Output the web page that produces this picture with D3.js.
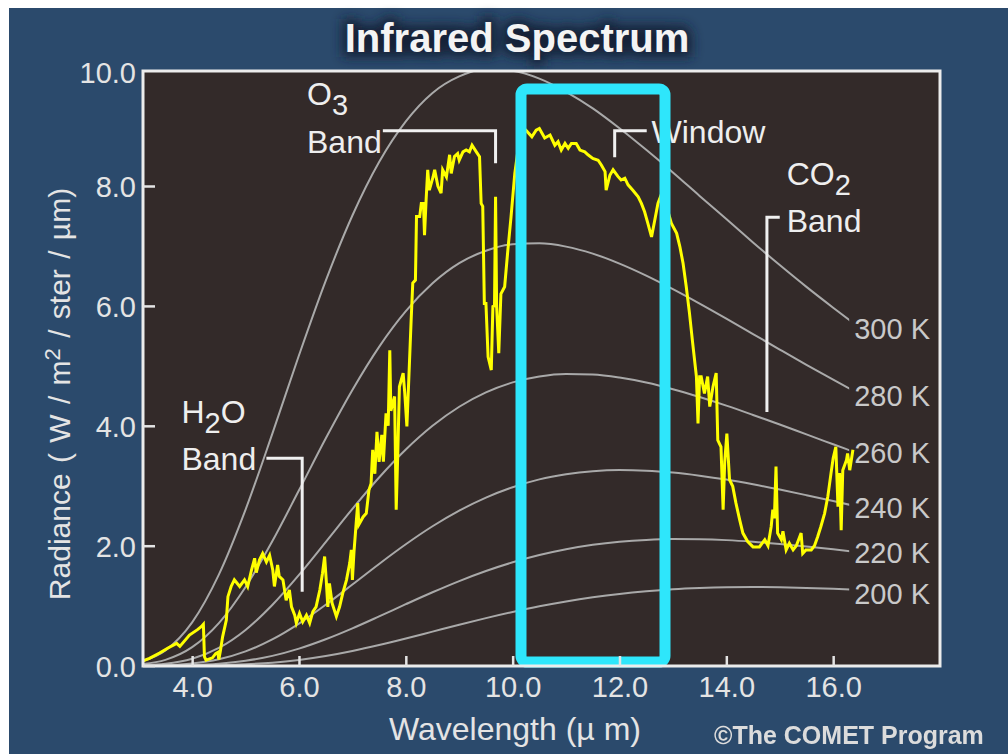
<!DOCTYPE html>
<html>
<head>
<meta charset="utf-8">
<script src="https://cdn.jsdelivr.net/npm/d3@7"></script>
<style>
  body { margin: 0; background: #fff; }
  svg { display: block; }
  text { font-family: "Liberation Sans", Arial, sans-serif; }
</style>
</head>
<body>
<div id="chart"></div>
<script>
// measured spectrum (yellow trace), wavelength in µm and radiance
const specWl = [3.08, 3.2, 3.39, 3.54, 3.71, 3.77, 3.95, 4.1, 4.17, 4.21, 4.23, 4.26, 4.38, 4.44, 4.48, 4.5, 4.53,
  4.57, 4.64, 4.67, 4.73, 4.79, 4.89, 4.98, 5.04, 5.11, 5.17, 5.2, 5.26, 5.32, 5.39, 5.45, 5.51, 5.54, 5.6, 5.63,
  5.7, 5.76, 5.82, 5.86, 5.92, 5.95, 6.01, 6.07, 6.14, 6.2, 6.26, 6.32, 6.39, 6.44, 6.48, 6.51, 6.54, 6.57, 6.62,
  6.7, 6.76, 6.82, 6.89, 6.95, 6.98, 7.0, 7.03, 7.07, 7.1, 7.12, 7.2, 7.26, 7.31, 7.35, 7.38, 7.42, 7.46, 7.5, 7.55,
  7.58, 7.63, 7.67, 7.7, 7.72, 7.79, 7.82, 7.85, 7.88, 7.95, 7.98, 8.02, 8.05, 8.1, 8.13, 8.18, 8.2, 8.26, 8.29,
  8.33, 8.35, 8.38, 8.41, 8.44, 8.51, 8.54, 8.6, 8.66, 8.69, 8.76, 8.82, 8.85, 8.91, 8.97, 9.0, 9.07, 9.13, 9.19,
  9.24, 9.32, 9.38, 9.41, 9.44, 9.47, 9.5, 9.54, 9.6, 9.63, 9.66, 9.68, 9.7, 9.74, 9.78, 9.85, 9.91, 9.97, 10.04,
  10.1, 10.17, 10.25, 10.3, 10.36, 10.44, 10.5, 10.6, 10.7, 10.79, 10.85, 10.91, 10.98, 11.04, 11.1, 11.19, 11.26,
  11.35, 11.41, 11.5, 11.6, 11.66, 11.73, 11.75, 11.82, 11.88, 11.97, 12.03, 12.1, 12.16, 12.25, 12.35, 12.41,
  12.47, 12.53, 12.6, 12.66, 12.72, 12.8, 12.9, 12.97, 13.07, 13.13, 13.19, 13.25, 13.31, 13.37, 13.44, 13.47,
  13.5, 13.53, 13.59, 13.65, 13.69, 13.75, 13.81, 13.84, 13.9, 13.94, 13.97, 14.01, 14.06, 14.12, 14.18, 14.25,
  14.31, 14.4, 14.5, 14.62, 14.72, 14.78, 14.84, 14.87, 14.9, 14.93, 14.96, 15.03, 15.06, 15.12, 15.18, 15.25,
  15.31, 15.4, 15.43, 15.49, 15.59, 15.65, 15.71, 15.77, 15.84, 15.9, 15.96, 16.0, 16.05, 16.09, 16.12, 16.15,
  16.18, 16.25, 16.27, 16.31, 16.37];
const specRad = [0.08, 0.12, 0.21, 0.29, 0.37, 0.32, 0.51, 0.6, 0.65, 0.69, 0.15, 0.09, 0.13, 0.2, 0.22, 0.1, 0.25,
  0.48, 0.76, 1.15, 1.32, 1.43, 1.32, 1.43, 1.32, 1.59, 1.79, 1.55, 1.76, 1.87, 1.73, 1.84, 1.59, 1.32, 1.68, 1.49,
  1.43, 1.09, 1.26, 0.98, 0.84, 0.71, 0.87, 0.73, 0.84, 0.71, 0.9, 0.98, 1.26, 1.54, 1.82, 1.43, 0.98, 1.37, 1.04,
  0.82, 0.98, 1.21, 1.43, 1.71, 1.93, 1.43, 1.9, 2.37, 2.71, 2.35, 2.48, 2.54, 2.93, 3.04, 3.6, 3.2, 3.9, 3.4, 3.85,
  3.4, 4.21, 4.0, 5.26, 4.25, 4.49, 2.6, 3.55, 4.65, 4.88, 4.55, 3.99, 4.65, 5.77, 6.38, 6.43, 7.49, 7.49, 7.71,
  7.71, 7.18, 7.77, 8.27, 7.93, 8.15, 8.27, 8.0, 7.88, 8.27, 8.15, 8.52, 8.21, 8.49, 8.54, 8.43, 8.57, 8.6, 8.57,
  8.68, 8.57, 8.49, 7.71, 7.66, 6.04, 6.04, 5.15, 4.93, 5.99, 6.0, 7.82, 6.0, 5.21, 6.2, 6.32, 6.93, 7.49, 8.21,
  8.6, 8.9, 8.93, 8.88, 8.82, 8.93, 8.96, 8.8, 8.85, 8.68, 8.74, 8.6, 8.71, 8.63, 8.71, 8.71, 8.6,
  8.57, 8.52, 8.46, 8.43, 8.35, 8.24, 7.93, 8.18, 8.27, 8.16, 8.1, 8.13, 8.02, 7.93, 7.82, 7.71,
  7.57, 7.38, 7.15, 7.43, 7.71, 7.9, 7.6, 7.38, 7.21, 6.99, 6.71, 6.32, 5.88, 5.38, 4.82, 4.04,
  4.82, 4.82, 4.54, 4.82, 4.32, 4.65, 4.88, 3.76, 3.65, 2.6, 3.4, 3.87, 3.1, 2.99, 2.71, 2.43,
  2.21, 2.07, 1.98, 1.98, 2.1, 2.0, 2.32, 2.6, 2.46, 3.32, 2.21, 2.1, 2.24, 1.93, 2.04, 1.93,
  2.0, 2.21, 1.87, 1.93, 1.93, 2.0, 2.15, 2.32, 2.54, 2.82, 3.21, 3.46, 3.65, 2.65, 3.21, 2.26,
  3.26, 3.43, 3.54, 3.26, 3.6];

// blackbody reference curves
const planckWl = [3.0, 3.5, 4.0, 4.5, 5.0, 5.5, 6.0, 6.5, 7.0, 7.5, 8.0, 8.5, 9.0, 9.5, 10.0, 10.5, 11.0, 11.5,
  12.0, 12.5, 13.0, 13.5, 14.0, 14.5, 15.0, 15.5, 16.0, 16.5];
const rad300 = [0.056, 0.254, 0.722, 1.518, 2.602, 3.865, 5.176, 6.418, 7.508, 8.400, 9.078, 9.553, 9.829, 9.950,
  9.923, 9.792, 9.572, 9.295, 8.963, 8.603, 8.226, 7.835, 7.448, 7.059, 6.681, 6.317, 5.970, 5.633];
const rad280 = [0.018, 0.095, 0.307, 0.709, 1.312, 2.073, 2.924, 3.788, 4.598, 5.317, 5.912, 6.376, 6.712, 6.921,
  7.028, 7.044, 6.989, 6.872, 6.705, 6.505, 6.280, 6.039, 5.788, 5.530, 5.272, 5.017, 4.769, 4.527];
const rad260 = [0.005, 0.031, 0.114, 0.295, 0.595, 1.011, 1.513, 2.061, 2.614, 3.138, 3.604, 4.000, 4.318, 4.558,
  4.724, 4.823, 4.864, 4.855, 4.804, 4.721, 4.611, 4.480, 4.336, 4.181, 4.021, 3.856, 3.692, 3.528];
const rad240 = [0.001, 0.008, 0.036, 0.106, 0.237, 0.437, 0.701, 1.014, 1.353, 1.696, 2.024, 2.324, 2.585, 2.802,
  2.975, 3.106, 3.191, 3.242, 3.261, 3.252, 3.220, 3.168, 3.103, 3.024, 2.936, 2.842, 2.745, 2.644];
const rad220 = [0.000, 0.002, 0.009, 0.032, 0.080, 0.162, 0.283, 0.439, 0.621, 0.820, 1.024, 1.223, 1.410, 1.578,
  1.723, 1.844, 1.941, 2.015, 2.066, 2.097, 2.110, 2.107, 2.093, 2.066, 2.030, 1.987, 1.939, 1.886];
const rad200 = [0.000, 0.000, 0.002, 0.007, 0.022, 0.049, 0.095, 0.160, 0.244, 0.343, 0.452, 0.567, 0.682, 0.792,
  0.895, 0.989, 1.070, 1.139, 1.196, 1.240, 1.273, 1.294, 1.307, 1.311, 1.306, 1.296, 1.281, 1.261];
const tempCurves = [rad300, rad280, rad260, rad240, rad220, rad200];
const tempLabels = ['300 K', '280 K', '260 K', '240 K', '220 K', '200 K'];
const tempLabelRad = [5.63, 4.5, 3.56, 2.63, 1.89, 1.2];

const xTicks = [4, 6, 8, 10, 12, 14, 16];
const yTicks = [0, 2, 4, 6, 8];

const width = 1008;
const height = 754;
const plot = { left: 143, right: 940, top: 71, bottom: 666 };

const x = d3.scaleLinear().domain([3.08, 18.0]).range([plot.left, plot.right]);
const y = d3.scaleLinear().domain([0, 10]).range([665.6, 66.1]);

const svg = d3.select('#chart').append('svg')
  .attr('width', width)
  .attr('height', height);

const defs = svg.append('defs');
defs.append('clipPath').attr('id', 'plot-clip')
  .append('rect')
  .attr('x', plot.left).attr('y', plot.top)
  .attr('width', plot.right - plot.left).attr('height', plot.bottom - plot.top);
defs.append('clipPath').attr('id', 'curve-clip')
  .append('rect')
  .attr('x', plot.left).attr('y', plot.top)
  .attr('width', x(16.3) - plot.left).attr('height', plot.bottom - plot.top);
defs.append('filter').attr('id', 'glow')
  .attr('x', '-20%').attr('y', '-50%').attr('width', '140%').attr('height', '200%')
  .append('feGaussianBlur').attr('stdDeviation', 6);
defs.append('filter').attr('id', 'soft')
  .attr('x', '-5%').attr('y', '-30%').attr('width', '110%').attr('height', '160%')
  .append('feGaussianBlur').attr('stdDeviation', 0.6);

// panel background
svg.append('rect').attr('x', 9).attr('y', 8)
  .attr('width', width - 9).attr('height', height - 8)
  .attr('fill', '#2b4a6c');

// title with dark halo
svg.append('text')
  .attr('x', 517).attr('y', 52)
  .attr('text-anchor', 'middle')
  .attr('font-size', 40).attr('font-weight', 'bold')
  .attr('fill', '#142338').attr('stroke', '#142338').attr('stroke-width', 10)
  .attr('filter', 'url(#glow)')
  .text('Infrared Spectrum');
svg.append('text')
  .attr('x', 517).attr('y', 52)
  .attr('text-anchor', 'middle')
  .attr('font-size', 40).attr('font-weight', 'bold')
  .attr('fill', '#f4f4f4')
  .text('Infrared Spectrum');

// plot area
svg.append('rect')
  .attr('x', plot.left).attr('y', plot.top)
  .attr('width', plot.right - plot.left).attr('height', plot.bottom - plot.top)
  .attr('fill', '#332a29');

// blackbody curves
const planckLine = d3.line()
  .x((d, i) => x(planckWl[i]))
  .y(d => y(d))
  .curve(d3.curveMonotoneX);

svg.append('g')
  .attr('clip-path', 'url(#curve-clip)')
  .selectAll('path')
  .data(tempCurves)
  .join('path')
  .attr('d', planckLine)
  .attr('fill', 'none')
  .attr('stroke', '#a9a9a9')
  .attr('stroke-width', 2);

svg.append('g')
  .selectAll('text')
  .data(tempLabels)
  .join('text')
  .attr('x', x(16.3) + 5)
  .attr('y', (d, i) => y(tempLabelRad[i]))
  .attr('dy', '0.36em')
  .attr('font-size', 29)
  .attr('fill', '#c9c9c9')
  .text(d => d);

// measured spectrum
const specLine = d3.line()
  .x((d, i) => x(specWl[i]))
  .y(d => y(d));

svg.append('path')
  .datum(specRad)
  .attr('clip-path', 'url(#plot-clip)')
  .attr('d', specLine)
  .attr('fill', 'none')
  .attr('stroke', '#ffff00')
  .attr('stroke-width', 3)
  .attr('stroke-linejoin', 'miter');

// band annotations (brackets in data units)
const brackets = [
  [[7.57, 8.92], [9.68, 8.92], [9.68, 8.38]],
  [[5.39, 3.46], [6.06, 3.46], [6.06, 1.23]],
  [[11.91, 8.48], [11.91, 8.92], [12.51, 8.92]],
  [[14.76, 4.23], [14.76, 7.48], [15.0, 7.48]]
];
const bracketLine = d3.line().x(d => x(d[0])).y(d => y(d[1]));
svg.append('g')
  .selectAll('path')
  .data(brackets)
  .join('path')
  .attr('d', bracketLine)
  .attr('fill', 'none')
  .attr('stroke', '#f0f0f0')
  .attr('stroke-width', 3);

const bandLabels = [
  { wl: 6.15, rad: 9.35, main: 'O', sub: '3' },
  { wl: 6.15, rad: 8.55, main: 'Band' },
  { wl: 3.8, rad: 4.05, main: 'H', sub: '2', tail: 'O' },
  { wl: 3.8, rad: 3.26, main: 'Band' },
  { wl: 15.13, rad: 8.02, main: 'CO', sub: '2' },
  { wl: 15.13, rad: 7.23, main: 'Band' },
  { wl: 12.6, rad: 8.72, main: 'Window' }
];
const bl = svg.append('g')
  .selectAll('text')
  .data(bandLabels)
  .join('text')
  .attr('x', d => x(d.wl))
  .attr('y', d => y(d.rad))
  .attr('font-size', 32)
  .attr('fill', '#eeeeee');
bl.append('tspan').text(d => d.main);
bl.filter(d => d.sub).append('tspan')
  .attr('dy', 10).attr('font-size', 29)
  .text(d => d.sub);
bl.filter(d => d.tail).append('tspan')
  .attr('dy', -10)
  .text(d => d.tail);

// cyan highlight box around the window region
svg.append('rect')
  .attr('x', 521).attr('y', 89)
  .attr('width', 144).attr('height', 573)
  .attr('rx', 6)
  .attr('fill', 'none')
  .attr('stroke', '#2ee6fb')
  .attr('stroke-width', 11);

// frame
svg.append('rect')
  .attr('x', plot.left).attr('y', plot.top)
  .attr('width', plot.right - plot.left).attr('height', plot.bottom - plot.top)
  .attr('fill', 'none')
  .attr('stroke', '#ececec')
  .attr('stroke-width', 3);

// axes
const yAxis = svg.append('g')
  .attr('transform', `translate(${plot.left},0)`)
  .call(d3.axisLeft(y).tickValues(yTicks).tickSize(-12).tickPadding(7).tickFormat(d3.format('.1f')));
const xAxis = svg.append('g')
  .attr('transform', `translate(0,${plot.bottom})`)
  .call(d3.axisBottom(x).tickValues(xTicks).tickSize(-10).tickPadding(10).tickFormat(d3.format('.1f')));

[yAxis, xAxis].forEach(g => {
  g.select('.domain').remove();
  g.selectAll('.tick line').attr('stroke', '#e4e4e4').attr('stroke-width', 2.5);
  g.selectAll('.tick text')
    .attr('fill', '#e4e4e4')
    .attr('font-size', 29)
    .attr('font-family', '"Liberation Sans", Arial, sans-serif');
});
yAxis.selectAll('.tick text').attr('dy', '0.36em');

// top tick label sits on the frame
svg.append('text')
  .attr('x', plot.left - 7).attr('y', plot.top + 2)
  .attr('dy', '0.36em')
  .attr('text-anchor', 'end')
  .attr('font-size', 29)
  .attr('fill', '#e4e4e4')
  .text('10.0');

// axis titles
const yTitle = svg.append('text')
  .attr('transform', 'translate(70,394) rotate(-90)')
  .attr('text-anchor', 'middle')
  .attr('font-size', 30)
  .attr('word-spacing', 2)
  .attr('fill', '#e4e4e4');
yTitle.append('tspan').text('Radiance ( W / m');
yTitle.append('tspan').attr('dy', -10).attr('font-size', 22).text('2');
yTitle.append('tspan').attr('dy', 10).text(' / ster / µm)');

svg.append('text')
  .attr('x', 515).attr('y', 740)
  .attr('text-anchor', 'middle')
  .attr('font-size', 32)
  .attr('fill', '#e4e4e4')
  .text('Wavelength (µ m)');

svg.append('text')
  .attr('x', 714).attr('y', 744)
  .attr('font-size', 25).attr('font-weight', 'bold')
  .attr('fill', '#dcdcdc')
  .attr('filter', 'url(#soft)')
  .text('©The COMET Program');
</script>
</body>
</html>
